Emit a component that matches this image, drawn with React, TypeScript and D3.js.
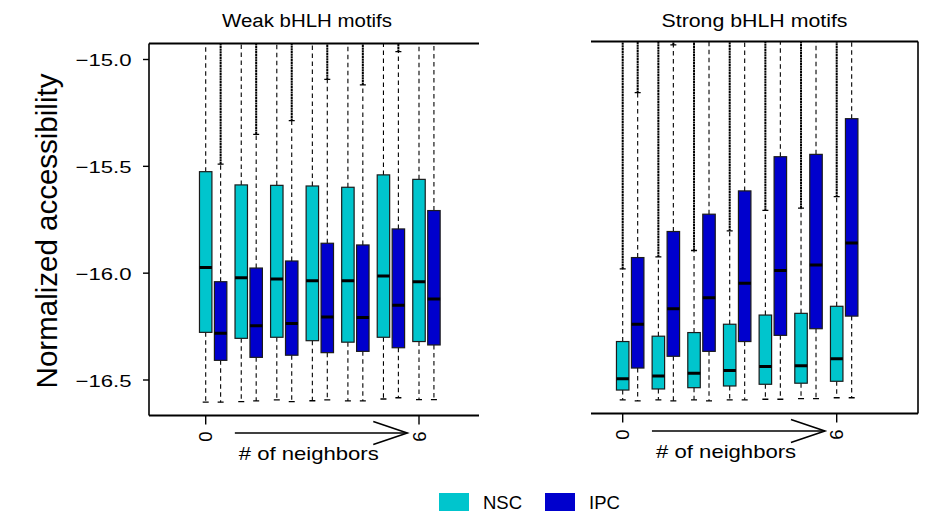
import * as d3 from "d3";

const WIDTH = 936;
const HEIGHT = 518;
const FONT = "'Liberation Sans', Arial, Helvetica, sans-serif";

const NSC_COLOR = "#00C5CD";
const IPC_COLOR = "#0000CD";

// number of neighbours, one pair of boxes each
const NEIGHBORS = [0, 1, 2, 3, 4, 5, 6];
const Y_TICKS = [-15.0, -15.5, -16.0, -16.5];
const X_TICK_LABELS = ["0", "6"];
const SERIES = ["NSC", "IPC"];

// [lower whisker, Q1, median, Q3, upper whisker, highest outlier]
type Stat = [number, number, number, number, number, number | null];

const WEAK_NSC: Stat[] = [
  [-16.604, -16.277, -15.974, -15.525, -14.8, null],
  [-16.601, -16.305, -16.021, -15.587, -14.8, null],
  [-16.593, -16.3, -16.027, -15.589, -14.8, null],
  [-16.597, -16.316, -16.035, -15.592, -14.8, null],
  [-16.598, -16.323, -16.036, -15.598, -14.8, null],
  [-16.589, -16.3, -16.013, -15.54, -14.8, null],
  [-16.592, -16.32, -16.04, -15.561, -14.8, null],
];

const WEAK_IPC: Stat[] = [
  [-16.604, -16.408, -16.281, -16.04, -15.49, -14.8],
  [-16.598, -16.394, -16.246, -15.976, -15.35, -14.8],
  [-16.601, -16.384, -16.235, -15.943, -15.286, -14.8],
  [-16.593, -16.372, -16.205, -15.86, -15.093, -14.8],
  [-16.598, -16.366, -16.208, -15.868, -15.119, -14.8],
  [-16.583, -16.349, -16.15, -15.793, -14.963, -14.8],
  [-16.592, -16.336, -16.121, -15.707, -14.8, null],
];

const STRONG_NSC: Stat[] = [
  [-16.593, -16.547, -16.494, -16.32, -15.98, -14.8],
  [-16.593, -16.542, -16.481, -16.295, -15.924, -14.8],
  [-16.593, -16.536, -16.468, -16.278, -15.894, -14.8],
  [-16.593, -16.528, -16.456, -16.239, -15.802, -14.8],
  [-16.59, -16.52, -16.437, -16.196, -15.706, -14.8],
  [-16.587, -16.515, -16.433, -16.188, -15.696, -14.8],
  [-16.583, -16.506, -16.4, -16.155, -15.642, -14.8],
];

const STRONG_IPC: Stat[] = [
  [-16.598, -16.444, -16.239, -15.927, -15.155, -14.8],
  [-16.598, -16.389, -16.166, -15.805, -14.932, -14.8],
  [-16.598, -16.366, -16.115, -15.724, -14.8, null],
  [-16.593, -16.32, -16.047, -15.615, -14.8, null],
  [-16.59, -16.291, -15.988, -15.455, -14.8, null],
  [-16.587, -16.26, -15.962, -15.444, -14.8, null],
  [-16.583, -16.201, -15.859, -15.277, -14.8, null],
];

const y = d3.scaleLinear().domain([-16.5, -15.0]).range([380, 59.5]);

const IPC_OFFSET = 0.42;
const BOX_W = 0.35;

interface PanelProps {
  id: string;
  title: string;
  titleLen: number;
  nsc: Stat[];
  ipc: Stat[];
  xRange: [number, number];
  frame: { x0: number; x1: number; y0: number; y1: number };
  side: "left" | "right";
}

function Boxes({ data, offset, color, x }: { data: Stat[]; offset: number; color: string; x: d3.ScaleLinear<number, number> }) {
  const half = (x(BOX_W) - x(0)) / 2;
  return (
    <g>
      {data.map((d, i) => {
        const cx = x(NEIGHBORS[i] + offset);
        const [lo, q1, med, q3, hi, out] = d;
        return (
          <g key={i}>
            {out !== null && (
              <line x1={cx} x2={cx} y1={y(hi)} y2={y(out)} stroke="#000" strokeWidth={2} strokeDasharray="2.2 0.5" />
            )}
            <line x1={cx} x2={cx} y1={y(q3)} y2={y(hi)} stroke="#000" strokeWidth={1.1} strokeDasharray="4.5 3.5" />
            <line x1={cx} x2={cx} y1={y(q1)} y2={y(lo)} stroke="#000" strokeWidth={1.1} strokeDasharray="4.5 3.5" />
            <line x1={cx - 3} x2={cx + 3} y1={y(hi)} y2={y(hi)} stroke="#000" strokeWidth={1.3} />
            <line x1={cx - 3} x2={cx + 3} y1={y(lo)} y2={y(lo)} stroke="#000" strokeWidth={1.3} />
            <rect x={cx - half} y={y(q3)} width={half * 2} height={y(q1) - y(q3)} fill={color} stroke="#1b1b1b" strokeWidth={1.2} />
            <line x1={cx - half} x2={cx + half} y1={y(med)} y2={y(med)} stroke="#000" strokeWidth={3} />
          </g>
        );
      })}
    </g>
  );
}

function Panel({ id, title, titleLen, nsc, ipc, xRange, frame, side }: PanelProps) {
  const x = d3.scaleLinear().domain([0, 6]).range(xRange);
  const { x0, x1, y0, y1 } = frame;
  const cx = (x0 + x1) / 2;
  const arrowA = x(0.82);
  const arrowB = x(5.67);
  const ay = y1 + 17.5;
  return (
    <g fontFamily={FONT}>
      <defs>
        <clipPath id={id}>
          <rect x={x0} y={y0} width={x1 - x0} height={y1 - y0} />
        </clipPath>
      </defs>
      <text x={side === "left" ? cx - 7 : cx} y={26.5} textAnchor="middle" fontSize={18} textLength={titleLen} lengthAdjust="spacingAndGlyphs">
        {title}
      </text>
      <g clipPath={`url(#${id})`}>
        <Boxes data={nsc} offset={0} color={NSC_COLOR} x={x} />
        <Boxes data={ipc} offset={IPC_OFFSET} color={IPC_COLOR} x={x} />
      </g>
      <line x1={x0} x2={x1} y1={y0} y2={y0} stroke="#000" strokeWidth={1.8} />
      <line x1={x0} x2={x1} y1={y1} y2={y1} stroke="#000" strokeWidth={1.8} />
      {side === "left" ? (
        <g>
          <line x1={x0} x2={x0} y1={y0} y2={y1} stroke="#000" strokeWidth={1.6} />
          {Y_TICKS.map((t) => (
            <g key={t}>
              <line x1={x0 - 6} x2={x0} y1={y(t)} y2={y(t)} stroke="#000" strokeWidth={1.4} />
              <text x={x0 - 17.5} y={y(t) + 6.5} textAnchor="end" fontSize={17} textLength={56} lengthAdjust="spacingAndGlyphs">
                {"\u2212" + Math.abs(t).toFixed(1)}
              </text>
            </g>
          ))}
        </g>
      ) : (
        <line x1={x1} x2={x1} y1={y0} y2={y1} stroke="#000" strokeWidth={1.6} />
      )}
      {X_TICK_LABELS.map((l) => {
        const tx = x(+l);
        return (
          <g key={l}>
            <line x1={tx} x2={tx} y1={y1} y2={y1 + 9} stroke="#000" strokeWidth={1.4} />
            <text transform={`translate(${tx + 6.5},${y1 + 16}) rotate(-90)`} textAnchor="end" fontSize={18.5}>
              {l}
            </text>
          </g>
        );
      })}
      <line x1={arrowA} x2={arrowB} y1={ay} y2={ay} stroke="#000" strokeWidth={1.6} />
      <polyline points={`${arrowB - 34},${ay - 11.5} ${arrowB},${ay} ${arrowB - 34},${ay + 11.5}`} fill="none" stroke="#000" strokeWidth={1.6} />
      <text x={x(2.9)} y={ay + 27} textAnchor="middle" fontSize={18.5} textLength={140} lengthAdjust="spacingAndGlyphs">
        # of neighbors
      </text>
    </g>
  );
}

export default function App() {
  const legendX = [439, 545];
  return (
    <svg width={WIDTH} height={HEIGHT} viewBox={`0 0 ${WIDTH} ${HEIGHT}`} style={{ position: "absolute", left: 0, top: 0, background: "#fff" }}>
      <rect width={WIDTH} height={HEIGHT} fill="#fff" />
      <text transform="translate(57,231) rotate(-90)" textAnchor="middle" fontSize={29.5} fontFamily={FONT}>
        Normalized accessibility
      </text>
      <Panel
        id="clip-weak"
        title="Weak bHLH motifs"
        titleLen={170}
        nsc={WEAK_NSC}
        ipc={WEAK_IPC}
        xRange={[205.7, 419]}
        frame={{ x0: 149, x1: 479, y0: 43.5, y1: 415.5 }}
        side="left"
      />
      <Panel
        id="clip-strong"
        title="Strong bHLH motifs"
        titleLen={186}
        nsc={STRONG_NSC}
        ipc={STRONG_IPC}
        xRange={[622.7, 836.7]}
        frame={{ x0: 591, x1: 918, y0: 41.5, y1: 413.5 }}
        side="right"
      />
      <g fontFamily={FONT}>
        {SERIES.map((s, i) => (
          <g key={s}>
            <rect x={legendX[i]} y={493} width={30} height={18} fill={i === 0 ? NSC_COLOR : IPC_COLOR} />
            <text x={legendX[i] + 44} y={508.5} fontSize={18.5}>
              {s}
            </text>
          </g>
        ))}
      </g>
    </svg>
  );
}
